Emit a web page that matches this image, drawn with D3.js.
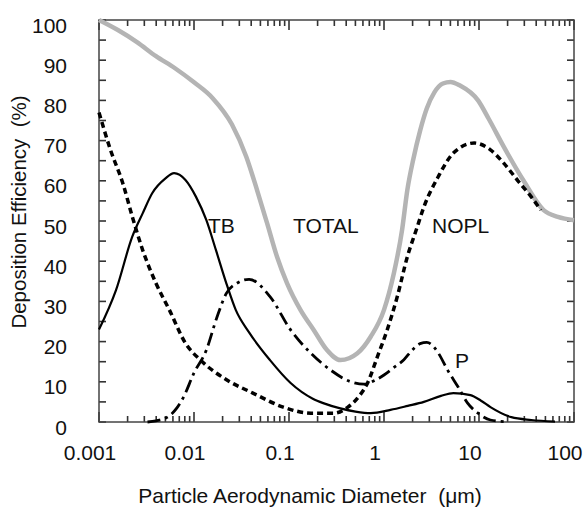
<!DOCTYPE html>
<html>
<head>
<meta charset="utf-8">
<script src="https://cdn.jsdelivr.net/npm/d3@7/dist/d3.min.js"></script>
<style>
  html, body { margin: 0; padding: 0; background: #fff; }
  svg { display: block; font-family: "Liberation Sans", Arial, Helvetica, sans-serif; }
</style>
</head>
<body>
<svg id="chart" width="586" height="508"></svg>
<script>
// Deposition efficiency (%) versus particle aerodynamic diameter (µm)
const totalD = [0.001, 0.00158, 0.00251, 0.00398, 0.00631, 0.01, 0.0158, 0.0251, 0.0355, 0.0461, 0.0589, 0.0748, 0.0955, 0.132, 0.182, 0.251, 0.348, 0.525, 0.724, 1.0, 1.27, 1.55, 1.76, 2.04, 2.4, 2.82, 3.39, 4.17, 5.01, 6.31, 9.77, 12.6, 18.2, 29.5, 47.9, 67.6, 100];
const totalV = [100, 97.5, 94.5, 91, 88, 84.5, 80.5, 74, 66, 57.7, 49.4, 41.1, 34.5, 27.9, 22.9, 17.9, 15.4, 17.1, 21.2, 27.9, 37, 47.8, 57.7, 65.5, 72.5, 78, 82, 84.2, 84.6, 83.7, 80, 75.5, 68.5, 60, 52.7, 51, 50.2];

const tbD = [0.001, 0.00151, 0.00224, 0.00288, 0.00363, 0.00501, 0.00617, 0.00813, 0.0105, 0.0135, 0.017, 0.0219, 0.0275, 0.038, 0.0631, 0.104, 0.178, 0.229, 0.347, 0.501, 0.724, 1.17, 1.78, 2.63, 3.98, 5.37, 8.13, 10.5, 13.2, 21.9, 35.5, 63.1];
const tbV = [23, 32.8, 46.1, 51.9, 56.9, 60.6, 61.9, 60.2, 56, 50.2, 42.8, 34.5, 27.9, 22.3, 15.4, 9.7, 5.8, 4.7, 3.4, 2.6, 2.2, 3, 4, 5, 6.5, 7.2, 6.7, 5.3, 3.7, 1.2, 0.5, 0.1];

const noplD = [0.001, 0.00132, 0.00178, 0.00224, 0.00288, 0.00398, 0.0055, 0.00813, 0.0117, 0.0224, 0.0417, 0.0871, 0.17, 0.295, 0.417, 0.55, 0.668, 0.851, 1.08, 1.38, 1.76, 2.2, 2.63, 3.72, 5.37, 8.91, 13.2, 18.2, 25.7, 35.5, 44.7];
const noplV = [77, 67.7, 59.4, 51.1, 42.8, 34.5, 27.9, 19.6, 15.4, 10.4, 7.2, 3.7, 2.2, 2.2, 3.7, 6.5, 9.6, 16.2, 22.9, 31.2, 41.1, 48, 53.5, 61, 66.9, 69.4, 67.7, 64.4, 60, 56, 52.7];

const pD = [0.00324, 0.00398, 0.00525, 0.00661, 0.00776, 0.01, 0.0135, 0.0174, 0.0219, 0.0282, 0.038, 0.0631, 0.104, 0.17, 0.275, 0.447, 0.617, 0.794, 1.0, 1.26, 1.62, 2.0, 2.4, 2.82, 3.31, 3.72, 4.68, 6.03, 7.59, 9.77, 13.2, 18.2];
const pV = [0, 0.3, 1.2, 3.5, 6.2, 12.2, 17.9, 26, 32, 34.5, 35.5, 31.2, 22.9, 17.1, 12.9, 10, 9.4, 10.3, 11.7, 13.5, 15.5, 18, 19.5, 19.8, 18.8, 17.2, 12.9, 8.7, 4.7, 2.2, 0.5, 0.1];

const xMajorTicks = [0.001, 0.01, 0.1, 1, 10, 100];
const xTickLabels = ["0.001", "0.01", "0.1", "1", "10", "100"];
const yTicks = d3.range(0, 101, 5);
const yLabelTicks = [0, 10, 20, 30, 40, 50, 60, 70, 80, 90, 100];

const xTitle = "Particle Aerodynamic Diameter  (\u03bcm)";
const yTitle = "Deposition Efficiency  (%)";

const svg = d3.select("#chart");
const plotLeft = 99, plotRight = 574, plotTop = 20, plotBottom = 422;

const x = d3.scaleLog().domain([0.001, 100]).range([plotLeft, plotRight]);
const y = d3.scaleLinear().domain([0, 100]).range([plotBottom, plotTop]);

// minor log ticks (2..9 in each decade)
const xMinorTicks = [];
for (let e = -3; e < 2; e++) {
  for (let k = 2; k <= 9; k++) xMinorTicks.push(+(k * Math.pow(10, e)).toPrecision(3));
}

const tickColor = "#333";
const tickW = 1.6;

// inward tick marks drawn as thin filled bars
const xTickData = xMinorTicks.map(v => ({ v, len: 6 }))
  .concat(xMajorTicks.map(v => ({ v, len: 10 })));
const ticks = svg.append("g").attr("fill", tickColor);

ticks.selectAll("rect.tb").data(xTickData).enter().append("rect").attr("class", "tb")
  .attr("x", d => x(d.v) - tickW / 2).attr("y", d => plotBottom - d.len)
  .attr("width", tickW).attr("height", d => d.len);
ticks.selectAll("rect.tt").data(xTickData).enter().append("rect").attr("class", "tt")
  .attr("x", d => x(d.v) - tickW / 2).attr("y", plotTop)
  .attr("width", tickW).attr("height", d => d.len);
ticks.selectAll("rect.tl").data(yTicks).enter().append("rect").attr("class", "tl")
  .attr("x", plotLeft).attr("y", d => y(d) - tickW / 2)
  .attr("width", 7).attr("height", tickW);
ticks.selectAll("rect.tr").data(yTicks).enter().append("rect").attr("class", "tr")
  .attr("x", plotRight - 7).attr("y", d => y(d) - tickW / 2)
  .attr("width", 7).attr("height", tickW);

// frame
svg.append("rect")
  .attr("x", plotLeft).attr("y", plotTop)
  .attr("width", plotRight - plotLeft).attr("height", plotBottom - plotTop)
  .attr("fill", "none").attr("stroke", "#444").attr("stroke-width", 1.5);

// tick labels
svg.append("g").selectAll("text").data(xMajorTicks).enter().append("text")
  .attr("x", d => x(d) - 9).attr("y", plotBottom + 38)
  .attr("text-anchor", "middle").attr("font-size", 21).attr("fill", "#111")
  .text((d, i) => xTickLabels[i]);

svg.append("g").selectAll("text").data(yLabelTicks).enter().append("text")
  .attr("x", plotLeft - 32).attr("y", d => y(d) + 12.5)
  .attr("text-anchor", "end").attr("font-size", 21).attr("fill", "#111")
  .text(d => d);

// curves
const line = d3.line().x(d => x(d[0])).y(d => y(d[1])).curve(d3.curveMonotoneX);
const zip = (a, b) => a.map((v, i) => [v, b[i]]);

svg.append("path").datum(zip(totalD, totalV)).attr("d", line)
  .attr("fill", "none").attr("stroke", "#b4b4b4").attr("stroke-width", 4.5).attr("stroke-linejoin", "round");

svg.append("path").datum(zip(noplD, noplV)).attr("d", line)
  .attr("fill", "none").attr("stroke", "#000").attr("stroke-width", 3.5)
  .attr("stroke-dasharray", "6,4");

svg.append("path").datum(zip(pD, pV)).attr("d", line)
  .attr("fill", "none").attr("stroke", "#000").attr("stroke-width", 2.8)
  .attr("stroke-dasharray", "13,5,3,5");

svg.append("path").datum(zip(tbD, tbV)).attr("d", line)
  .attr("fill", "none").attr("stroke", "#000").attr("stroke-width", 2.2);

// curve labels
const labels = [
  { t: "TB", x: 208, y: 233 },
  { t: "TOTAL", x: 293, y: 233 },
  { t: "NOPL", x: 432, y: 233 },
  { t: "P", x: 455, y: 368 }
];
svg.selectAll("text.lab").data(labels).enter().append("text").attr("class", "lab")
  .attr("x", d => d.x).attr("y", d => d.y).attr("font-size", 21).attr("fill", "#111")
  .text(d => d.t);

// axis titles
svg.append("text").attr("x", 310).attr("y", 503).attr("text-anchor", "middle")
  .attr("font-size", 21).attr("fill", "#111").attr("xml:space", "preserve").text(xTitle);
svg.append("text").attr("transform", "translate(26,212) rotate(-90)").attr("text-anchor", "middle")
  .attr("font-size", 20.5).attr("fill", "#111").attr("xml:space", "preserve").text(yTitle);
</script>
</body>
</html>
